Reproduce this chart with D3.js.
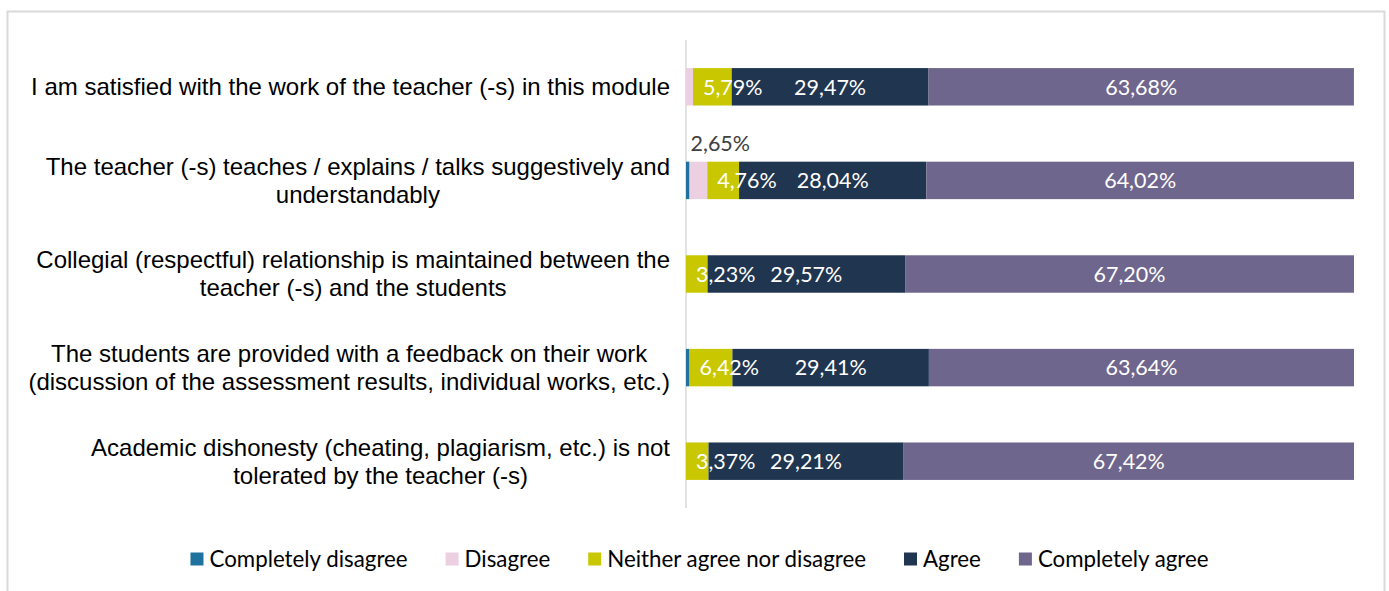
<!DOCTYPE html>
<html>
<head>
<meta charset="utf-8">
<script src="https://cdn.jsdelivr.net/npm/d3@7/dist/d3.min.js"></script>
<style>
  html, body { margin: 0; padding: 0; background: #fff; }
  svg { display: block; }
</style>
</head>
<body>
<svg id="chart" width="1389" height="591"></svg>
<script>
// ---- data ----
const categories = [
  "I am satisfied with the work of the teacher (-s) in this module",
  "The teacher (-s) teaches / explains / talks suggestively and\nunderstandably",
  "Collegial (respectful) relationship is maintained between the\nteacher (-s) and the students",
  "The students are provided with a feedback on their work\n(discussion of the assessment results, individual works, etc.)",
  "Academic dishonesty (cheating, plagiarism, etc.) is not\ntolerated by the teacher (-s)"
];
const seriesNames = ["Completely disagree", "Disagree", "Neither agree nor disagree", "Agree", "Completely agree"];
const completelyDisagree = [0, 0.53, 0, 0.53, 0];
const disagree = [1.05, 2.65, 0, 0, 0];
const neither = [5.79, 4.76, 3.23, 6.42, 3.37];
const agree = [29.47, 28.04, 29.57, 29.41, 29.21];
const completelyAgree = [63.68, 64.02, 67.20, 63.64, 67.42];
const xTicks = [0, 100];

// ---- styles ----
const colors = ["#20729e", "#eccfe0", "#c9c800", "#203550", "#6f668d"];
const labelFont = "Lato, 'Liberation Sans', sans-serif";
const catFont = "'Liberation Sans', Arial, sans-serif";

const svg = d3.select("#chart");

// chart border
svg.append("rect")
  .attr("x", 7.5).attr("y", 11.5)
  .attr("width", 1377).attr("height", 620)
  .attr("fill", "#fff").attr("stroke", "#d9d9d9").attr("stroke-width", 2);

const plot = { left: 686, right: 1354, top: 40, bottom: 508 };

const x = d3.scaleLinear().domain(d3.extent(xTicks)).range([plot.left, plot.right]);
const y = d3.scaleBand().domain(categories).range([plot.top, plot.bottom])
  .paddingInner(0.6).paddingOuter(0.3);

const seriesValues = [completelyDisagree, disagree, neither, agree, completelyAgree];
const rows = categories.map((c, i) => {
  const r = { category: c };
  seriesNames.forEach((s, k) => r[s] = seriesValues[k][i]);
  return r;
});
const stacked = d3.stack().keys(seriesNames)(rows);

// axis line (category axis)
svg.append("line")
  .attr("x1", x(0)).attr("x2", x(0))
  .attr("y1", plot.top).attr("y2", plot.bottom)
  .attr("stroke", "#d9d9d9").attr("stroke-width", 1.5);

// bars
const layers = svg.append("g").selectAll("g").data(stacked).join("g")
  .attr("fill", (d, i) => colors[i]);
layers.selectAll("rect").data(d => d).join("rect")
  .attr("x", d => x(d[0]))
  .attr("y", d => y(d.data.category))
  .attr("width", d => Math.max(0, x(d[1]) - x(d[0])))
  .attr("height", y.bandwidth());

// data labels
const lbl = svg.append("g").attr("font-family", labelFont).attr("font-size", 21.5);
stacked.forEach((layer, k) => {
  layer.forEach(d => {
    const v = d[1] - d[0];
    if (v <= 0) return;
    const yc = y(d.data.category) + y.bandwidth() / 2;
    const txt = v.toFixed(2).replace(".", ",") + "%";
    if (k === 1 && v > 2) {
      // label above the bar
      lbl.append("text")
        .attr("x", x(d[0]) + 1)
        .attr("y", y(d.data.category) - 11)
        .attr("fill", "#404040")
        .text(txt);
    } else if (k === 2) {
      lbl.append("text")
        .attr("x", x(d[0]) + 10)
        .attr("y", yc).attr("dy", "0.36em")
        .attr("text-anchor", "start")
        .attr("fill", "#fff")
        .text(txt);
    } else if (k >= 3) {
      lbl.append("text")
        .attr("x", (x(d[0]) + x(d[1])) / 2)
        .attr("y", yc).attr("dy", "0.36em")
        .attr("text-anchor", "middle")
        .attr("fill", "#fff")
        .text(txt);
    }
  });
});

// category labels
const catG = svg.append("g").attr("font-family", catFont).attr("font-size", 24).attr("fill", "#000");
const blockRight = 670, lineH = 28;
categories.forEach(c => {
  const lines = c.split("\n");
  const g = catG.append("g");
  const ts = lines.map(l => g.append("text").attr("text-anchor", "middle").text(l));
  const maxW = d3.max(ts, t => t.node().getComputedTextLength());
  const cx = blockRight - maxW / 2;
  const yc = y(c) + y.bandwidth() / 2;
  ts.forEach((t, i) => {
    t.attr("x", cx).attr("y", yc + (i - (lines.length - 1) / 2) * lineH).attr("dy", "0.35em");
  });
});

// legend
const leg = svg.append("g").attr("font-family", labelFont).attr("font-size", 22.3).attr("fill", "#000");
const sq = 13, gapText = 6, gapItem = 38, legY = 559;
let cursor = 0;
const items = seriesNames.map((s, i) => {
  const g = leg.append("g");
  g.append("rect").attr("width", sq).attr("height", sq).attr("y", legY - sq / 2).attr("fill", colors[i]);
  const t = g.append("text").attr("x", sq + gapText).attr("y", legY).attr("dy", "0.35em").text(s);
  const w = sq + gapText + t.node().getComputedTextLength();
  const item = { g, x: cursor, w };
  cursor += w + gapItem;
  return item;
});
const totalW = cursor - gapItem;
const legStart = 699.5 - totalW / 2;
items.forEach(it => it.g.attr("transform", `translate(${legStart + it.x},0)`));
</script>
</body>
</html>
